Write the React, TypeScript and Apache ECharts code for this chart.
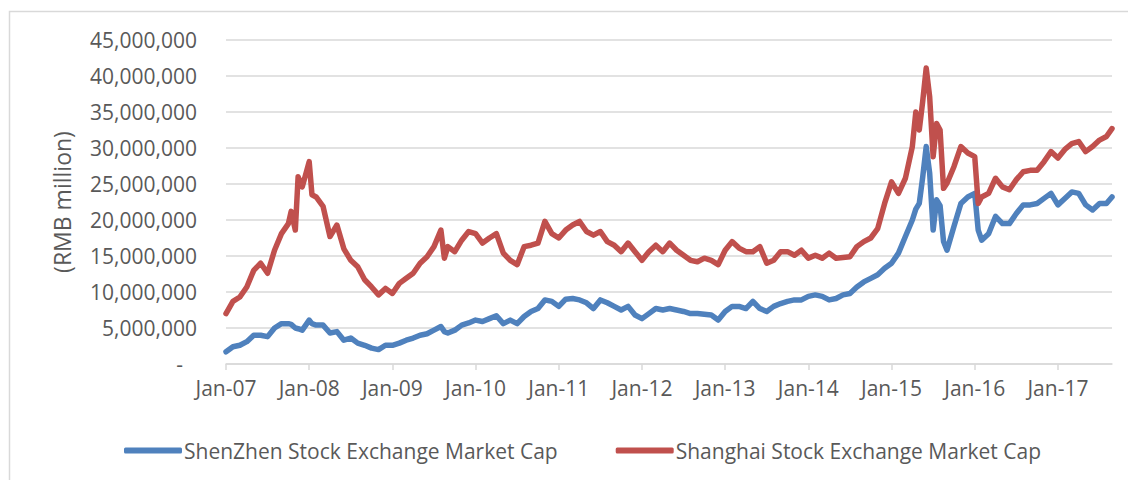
import React, { useEffect, useRef } from "react";
import * as echarts from "echarts";

// x position: months since Jan 2007
const months = [
  0, 1, 2, 3, 4, 5, 6, 7, 8, 9, 9.4, 10, 10.4, 11, 12, 12.4, 13, 14, 15, 16, 17, 18, 19, 20,
  21, 22, 23, 24, 25, 26, 27, 28, 29, 30, 31, 31.5, 32, 33, 34, 35, 36, 37, 38, 39, 40,
  41, 42, 43, 44, 45, 46, 47, 48, 49, 50, 51, 52, 53, 54, 55, 56, 57, 58, 59, 60,
  61, 62, 63, 64, 65, 66, 67, 68, 69, 70, 71, 72, 73, 74, 75, 76, 77, 78, 79, 80,
  81, 82, 83, 84, 85, 86, 87, 88, 89, 90, 91, 92, 93, 94, 95, 96, 97, 98, 99, 99.5,
  100, 100.5, 101, 101.5, 102, 102.5, 103, 103.5, 104, 105, 106, 107, 108, 108.5, 109, 110,
  111, 112, 113, 114, 115, 116, 117, 118, 119, 120, 121, 122, 123, 124, 125, 126, 127, 127.8,
];

// Market cap in trillion RMB (= million RMB million)
const shenzhenCap = [
  1.7, 2.4, 2.6, 3.1, 4.0, 4.0, 3.8, 5.0, 5.6, 5.6, 5.5, 5.0, 4.9, 4.7, 6.1, 5.6, 5.4, 5.4, 4.3, 4.5, 3.3, 3.6, 2.9, 2.6,
  2.2, 2.0, 2.6, 2.6, 2.9, 3.3, 3.6, 4.0, 4.2, 4.7, 5.2, 4.5, 4.3, 4.7, 5.4, 5.7, 6.1, 5.9, 6.3, 6.7, 5.6,
  6.1, 5.6, 6.6, 7.3, 7.7, 8.9, 8.7, 8.0, 9.0, 9.1, 8.9, 8.5, 7.7, 8.9, 8.5, 8.0, 7.5, 8.0, 6.8, 6.3,
  7.0, 7.7, 7.5, 7.7, 7.5, 7.3, 7.0, 7.0, 6.9, 6.8, 6.1, 7.3, 8.0, 8.0, 7.7, 8.7, 7.7, 7.3, 8.0, 8.4,
  8.7, 8.9, 8.9, 9.4, 9.6, 9.4, 8.9, 9.1, 9.6, 9.8, 10.7, 11.4, 11.9, 12.4, 13.3, 14.0, 15.4, 17.7, 20.0, 21.5,
  22.3, 26.0, 30.2, 26.5, 18.6, 22.8, 22.0, 17.0, 15.8, 19.1, 22.3, 23.2, 23.7, 18.6, 17.2, 18.1,
  20.5, 19.5, 19.5, 20.9, 22.1, 22.1, 22.3, 23.0, 23.7, 22.1, 23.0, 23.9, 23.7, 22.1, 21.4, 22.3, 22.3, 23.2,
];

const shanghaiCap = [
  7.0, 8.7, 9.3, 10.7, 13.0, 14.0, 12.6, 15.8, 18.1, 19.5, 21.2, 18.6, 26.0, 24.6, 28.1, 23.5, 23.2, 21.9, 17.7, 19.3, 16.0, 14.4, 13.5, 11.7,
  10.7, 9.6, 10.5, 9.8, 11.2, 11.9, 12.6, 14.0, 14.9, 16.3, 18.6, 14.7, 16.3, 15.6, 17.2, 18.4, 18.1, 16.8, 17.5, 18.1, 15.4,
  14.4, 13.8, 16.3, 16.5, 16.8, 19.8, 18.1, 17.5, 18.6, 19.3, 19.8, 18.4, 17.9, 18.4, 17.0, 16.5, 15.6, 16.8, 15.6, 14.4,
  15.6, 16.5, 15.6, 16.8, 15.8, 15.1, 14.4, 14.2, 14.7, 14.4, 13.8, 15.8, 17.0, 16.1, 15.6, 15.6, 16.3, 14.0, 14.4, 15.6,
  15.6, 15.1, 15.8, 14.7, 15.1, 14.7, 15.4, 14.7, 14.8, 14.9, 16.3, 17.0, 17.5, 18.8, 22.3, 25.3, 23.7, 25.8, 30.2, 35.0,
  32.5, 36.5, 41.1, 37.1, 28.8, 33.4, 32.5, 24.4, 25.1, 27.4, 30.2, 29.3, 28.8, 22.3, 23.2, 23.7,
  25.8, 24.6, 24.2, 25.6, 26.7, 26.9, 26.9, 28.1, 29.5, 28.6, 29.8, 30.6, 30.9, 29.5, 30.2, 31.1, 31.6, 32.7,
];

const seriesNames = ["ShenZhen Stock Exchange Market Cap", "Shanghai Stock Exchange Market Cap"];
const monthNames = ["Jan"];
const yTicks = [0, 5000000, 10000000, 15000000, 20000000, 25000000, 30000000, 35000000, 40000000, 45000000];

const UNIT = 1000000;

export default function App() {
  const ref = useRef<HTMLDivElement>(null);
  useEffect(() => {
    if (!ref.current) return;
    const chart = echarts.init(ref.current, null, { renderer: "svg" });
    const font = "'Open Sans', sans-serif";
    const toPairs = (vals: number[]) => months.map((m, i) => [m, vals[i] * UNIT]);
    chart.setOption({
      animation: false,
      backgroundColor: "#ffffff",
      grid: { left: 226, right: 16, top: 40, bottom: 116, containLabel: false },
      graphic: [
        {
          type: "rect",
          shape: { x: 9.5, y: 11.5, width: 1140, height: 500 },
          style: { fill: "none", stroke: "#d9d9d9", lineWidth: 1.5 },
          silent: true,
        },
        {
          type: "text",
          x: 62,
          y: 202,
          rotation: Math.PI / 2,
          style: {
            text: "(RMB million)",
            font: `23px ${font}`,
            fill: "#595959",
            textAlign: "center",
            textVerticalAlign: "middle",
          },
        },
      ],
      xAxis: {
        type: "value",
        min: 0,
        max: 127.8,
        interval: 12,
        axisLine: { show: true, lineStyle: { color: "#d9d9d9", width: 1.5 } },
        axisTick: { show: true, length: 6, lineStyle: { color: "#d9d9d9", width: 1.5 } },
        splitLine: { show: false },
        axisLabel: {
          color: "#595959",
          fontFamily: font,
          fontSize: 21,
          margin: 13,
          showMaxLabel: false,
          formatter: (v: number) => {
            const yr = 7 + Math.round(v / 12);
            return `${monthNames[0]}-${yr < 10 ? "0" + yr : yr}`;
          },
        },
      },
      yAxis: {
        type: "value",
        min: yTicks[0],
        max: yTicks[yTicks.length - 1],
        interval: 5000000,
        axisLine: { show: false },
        axisTick: { show: false },
        splitLine: { lineStyle: { color: "#d9d9d9", width: 1.5 } },
        axisLabel: {
          color: "#595959",
          fontFamily: font,
          fontSize: 21,
          margin: 29,
          formatter: (v: number) => (v === 0 ? "{z|-}" : v.toLocaleString("en-US")),
          rich: { z: { color: "#595959", fontFamily: font, fontSize: 21, padding: [0, 14, 0, 0] } },
        },
      },
      legend: {
        left: 119,
        top: 435,
        itemGap: 58,
        itemWidth: 58,
        itemHeight: 6,
        icon: "roundRect",
        textStyle: { color: "#595959", fontFamily: font, fontSize: 21, padding: [0, 0, 0, -3] },
        data: seriesNames,
      },
      series: [
        {
          name: seriesNames[0],
          type: "line",
          data: toPairs(shenzhenCap),
          showSymbol: false,
          symbol: "none",
          color: "#4f81bd",
          lineStyle: { width: 5.5, color: "#4f81bd", cap: "round", join: "round" },
        },
        {
          name: seriesNames[1],
          type: "line",
          data: toPairs(shanghaiCap),
          showSymbol: false,
          symbol: "none",
          color: "#c0504d",
          lineStyle: { width: 5.5, color: "#c0504d", cap: "round", join: "round" },
        },
      ],
    });
    return () => chart.dispose();
  }, []);
  return (
    <div
      ref={ref}
      style={{ position: "absolute", left: 0, top: 0, width: 1128, height: 480 }}
    />
  );
}
